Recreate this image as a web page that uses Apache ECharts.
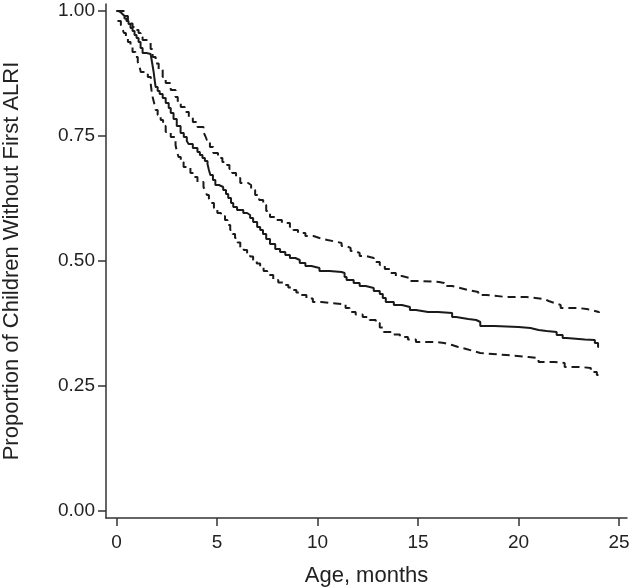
<!DOCTYPE html>
<html>
<head>
<meta charset="utf-8">
<script src="https://cdn.jsdelivr.net/npm/echarts@6/dist/echarts.min.js"></script>
<style>
html,body{margin:0;padding:0;background:#fff;}
#chart{width:629px;height:588px;}
</style>
</head>
<body>
<div id="chart"></div>
<script>
// Kaplan-Meier estimate (age in months, proportion without first ALRI)
var kmAge = [0, 0.1, 0.2, 0.3, 0.4, 0.5, 0.6, 0.7, 0.8, 0.9, 1.0, 1.1, 1.2, 1.3, 1.5, 1.7, 1.78, 1.85, 1.9, 1.95, 2.05, 2.15, 2.3, 2.45, 2.6, 2.7, 2.84, 3.0, 3.19, 3.35, 3.5, 3.59, 3.8, 4.03, 4.15, 4.28, 4.4, 4.53, 4.6, 4.67, 4.8, 4.92, 5.1, 5.31, 5.45, 5.56, 5.7, 5.81, 6.0, 6.31, 6.5, 6.65, 6.8, 7.0, 7.15, 7.29, 7.45, 7.64, 7.9, 8.14, 8.4, 8.63, 8.9, 9.12, 9.4, 9.7, 10.1, 10.6, 11.2, 11.35, 11.45, 11.8, 12.1, 12.4, 12.8, 13.1, 13.25, 13.4, 13.8, 14.2, 14.6, 14.9, 15.5, 16.0, 16.7, 16.9, 17.5, 17.9, 18.1, 18.8, 19.4, 20.0, 20.6, 21.0, 21.4, 21.9, 22.2, 22.4, 23.0, 23.3, 23.8, 23.96, 24.0];
var kmSurv = [1.0, 0.998, 0.994, 0.99, 0.985, 0.98, 0.974, 0.966, 0.96, 0.952, 0.946, 0.938, 0.926, 0.916, 0.914, 0.91, 0.895, 0.878, 0.862, 0.848, 0.84, 0.834, 0.826, 0.816, 0.806, 0.796, 0.784, 0.77, 0.756, 0.748, 0.74, 0.734, 0.726, 0.718, 0.712, 0.706, 0.7, 0.694, 0.682, 0.672, 0.662, 0.652, 0.648, 0.642, 0.634, 0.626, 0.616, 0.608, 0.602, 0.596, 0.592, 0.586, 0.578, 0.568, 0.562, 0.554, 0.544, 0.534, 0.524, 0.518, 0.512, 0.506, 0.502, 0.496, 0.49, 0.486, 0.48, 0.478, 0.476, 0.468, 0.462, 0.456, 0.45, 0.446, 0.44, 0.434, 0.426, 0.418, 0.412, 0.408, 0.402, 0.398, 0.398, 0.396, 0.388, 0.384, 0.382, 0.378, 0.37, 0.369, 0.368, 0.366, 0.362, 0.36, 0.358, 0.352, 0.346, 0.344, 0.343, 0.342, 0.336, 0.328, 0.328];

// Upper 95% confidence limit
var upAge = [0, 0.3, 0.45, 0.57, 0.7, 0.8, 0.95, 1.1, 1.2, 1.3, 1.6, 1.7, 1.8, 1.95, 2.1, 2.3, 2.45, 2.7, 2.94, 3.05, 3.2, 3.4, 3.6, 3.8, 4.03, 4.33, 4.42, 4.5, 4.65, 4.82, 5.05, 5.27, 5.5, 5.62, 5.76, 5.95, 6.16, 6.55, 6.7, 6.9, 7.1, 7.3, 7.45, 7.64, 7.9, 8.23, 8.63, 8.8, 9.03, 9.4, 9.8, 10.1, 10.5, 11.0, 11.2, 11.45, 11.65, 11.85, 12.1, 12.4, 12.8, 13.1, 13.35, 13.6, 13.9, 14.2, 14.6, 15.06, 16.05, 16.3, 16.7, 17.1, 17.5, 18.0, 18.4, 19.4, 20.4, 21.3, 21.5, 21.8, 22.1, 22.97, 23.4, 23.8, 24.0];
var upSurv = [1.0, 1.0, 0.99, 0.982, 0.975, 0.968, 0.962, 0.956, 0.948, 0.942, 0.938, 0.924, 0.908, 0.895, 0.882, 0.868, 0.856, 0.842, 0.828, 0.818, 0.808, 0.798, 0.788, 0.778, 0.768, 0.758, 0.75, 0.742, 0.728, 0.716, 0.706, 0.698, 0.692, 0.684, 0.676, 0.666, 0.656, 0.652, 0.642, 0.632, 0.622, 0.612, 0.6, 0.588, 0.582, 0.576, 0.568, 0.562, 0.556, 0.55, 0.546, 0.542, 0.538, 0.536, 0.53, 0.526, 0.52, 0.516, 0.51, 0.506, 0.498, 0.492, 0.484, 0.476, 0.47, 0.466, 0.46, 0.458, 0.456, 0.45, 0.446, 0.442, 0.438, 0.432, 0.428, 0.428, 0.424, 0.42, 0.416, 0.412, 0.406, 0.404, 0.4, 0.398, 0.396];

// Lower 95% confidence limit
var loAge = [0.05, 0.22, 0.3, 0.37, 0.47, 0.57, 0.7, 0.8, 0.95, 1.06, 1.15, 1.21, 1.56, 1.71, 1.75, 1.8, 1.88, 1.95, 2.05, 2.2, 2.32, 2.45, 2.7, 2.94, 3.0, 3.09, 3.2, 3.34, 3.68, 3.85, 4.03, 4.33, 4.42, 4.5, 4.6, 4.67, 4.85, 5.02, 5.2, 5.4, 5.52, 5.66, 5.78, 5.9, 6.03, 6.16, 6.33, 6.5, 6.65, 6.8, 6.98, 7.15, 7.32, 7.5, 7.8, 8.05, 8.3, 8.55, 8.78, 8.95, 9.12, 9.45, 9.77, 10.2, 10.6, 11.2, 11.4, 11.6, 11.9, 12.25, 12.6, 12.9, 13.1, 13.3, 13.7, 14.1, 14.5, 14.9, 15.9, 16.3, 16.7, 17.0, 17.4, 17.75, 18.1, 19.4, 20.5, 21.0, 21.8, 22.3, 23.1, 23.6, 23.9, 24.0];
var loSurv = [0.98, 0.972, 0.964, 0.956, 0.946, 0.938, 0.928, 0.918, 0.908, 0.898, 0.888, 0.878, 0.868, 0.852, 0.84, 0.828, 0.815, 0.802, 0.792, 0.782, 0.77, 0.758, 0.748, 0.732, 0.72, 0.708, 0.698, 0.688, 0.676, 0.668, 0.658, 0.648, 0.64, 0.632, 0.624, 0.616, 0.606, 0.596, 0.59, 0.582, 0.572, 0.562, 0.554, 0.546, 0.537, 0.528, 0.522, 0.516, 0.509, 0.502, 0.495, 0.488, 0.48, 0.472, 0.462, 0.457, 0.452, 0.447, 0.442, 0.437, 0.432, 0.425, 0.418, 0.416, 0.414, 0.414, 0.406, 0.398, 0.393, 0.388, 0.382, 0.376, 0.367, 0.358, 0.353, 0.348, 0.343, 0.338, 0.336, 0.332, 0.328, 0.324, 0.32, 0.316, 0.312, 0.308, 0.306, 0.298, 0.296, 0.288, 0.286, 0.278, 0.272, 0.27];

var xTicks = [0, 5, 10, 15, 20, 25];
var yTicks = [0, 0.25, 0.5, 0.75, 1.0];

function pairs(a, b) { return a.map(function (v, i) { return [v, b[i]]; }); }

var chart = echarts.init(document.getElementById('chart'), null, { renderer: 'canvas' });
var axisColor = '#333';
var textColor = '#222';
var fontFamily = '"Liberation Sans", Arial, Helvetica, sans-serif';

chart.setOption({
  animation: false,
  backgroundColor: '#fff',
  grid: { left: 106, right: 2, top: 4, bottom: 70, containLabel: false, outerBoundsMode: 'none' },
  xAxis: {
    type: 'value',
    min: -0.52,
    max: 25.4,
    splitLine: { show: false },
    axisLine: { show: true, onZero: false, lineStyle: { color: axisColor, width: 1.5 } },
    axisTick: { show: true, length: 8, customValues: xTicks, lineStyle: { color: axisColor, width: 1.5 } },
    axisLabel: { customValues: xTicks, color: textColor, fontSize: 19, fontFamily: fontFamily, margin: 15 },
    name: 'Age, months',
    nameLocation: 'middle',
    nameGap: 47,
    nameTextStyle: { color: textColor, fontSize: 22, fontFamily: fontFamily }
  },
  yAxis: {
    type: 'value',
    min: -0.014,
    max: 1.014,
    splitLine: { show: false },
    axisLine: { show: true, onZero: false, lineStyle: { color: axisColor, width: 1.5 } },
    axisTick: { show: true, length: 8, customValues: yTicks, lineStyle: { color: axisColor, width: 1.5 } },
    axisLabel: { customValues: yTicks, color: textColor, fontSize: 19, fontFamily: fontFamily, margin: 11,
      formatter: function (v) { return v.toFixed(2); } },
    name: 'Proportion of Children Without First ALRI',
    nameLocation: 'middle',
    nameGap: 83,
    nameTextStyle: { color: textColor, fontSize: 22, fontFamily: fontFamily }
  },
  series: [
    { type: 'line', step: 'end', data: pairs(kmAge, kmSurv), showSymbol: false,
      lineStyle: { color: '#1a1a1a', width: 2 } },
    { type: 'line', step: 'end', data: pairs(upAge, upSurv), showSymbol: false,
      lineStyle: { color: '#1a1a1a', width: 2, type: [8, 5] } },
    { type: 'line', step: 'end', data: pairs(loAge, loSurv), showSymbol: false,
      lineStyle: { color: '#1a1a1a', width: 2, type: [8, 5] } }
  ]
});
</script>
</body>
</html>
